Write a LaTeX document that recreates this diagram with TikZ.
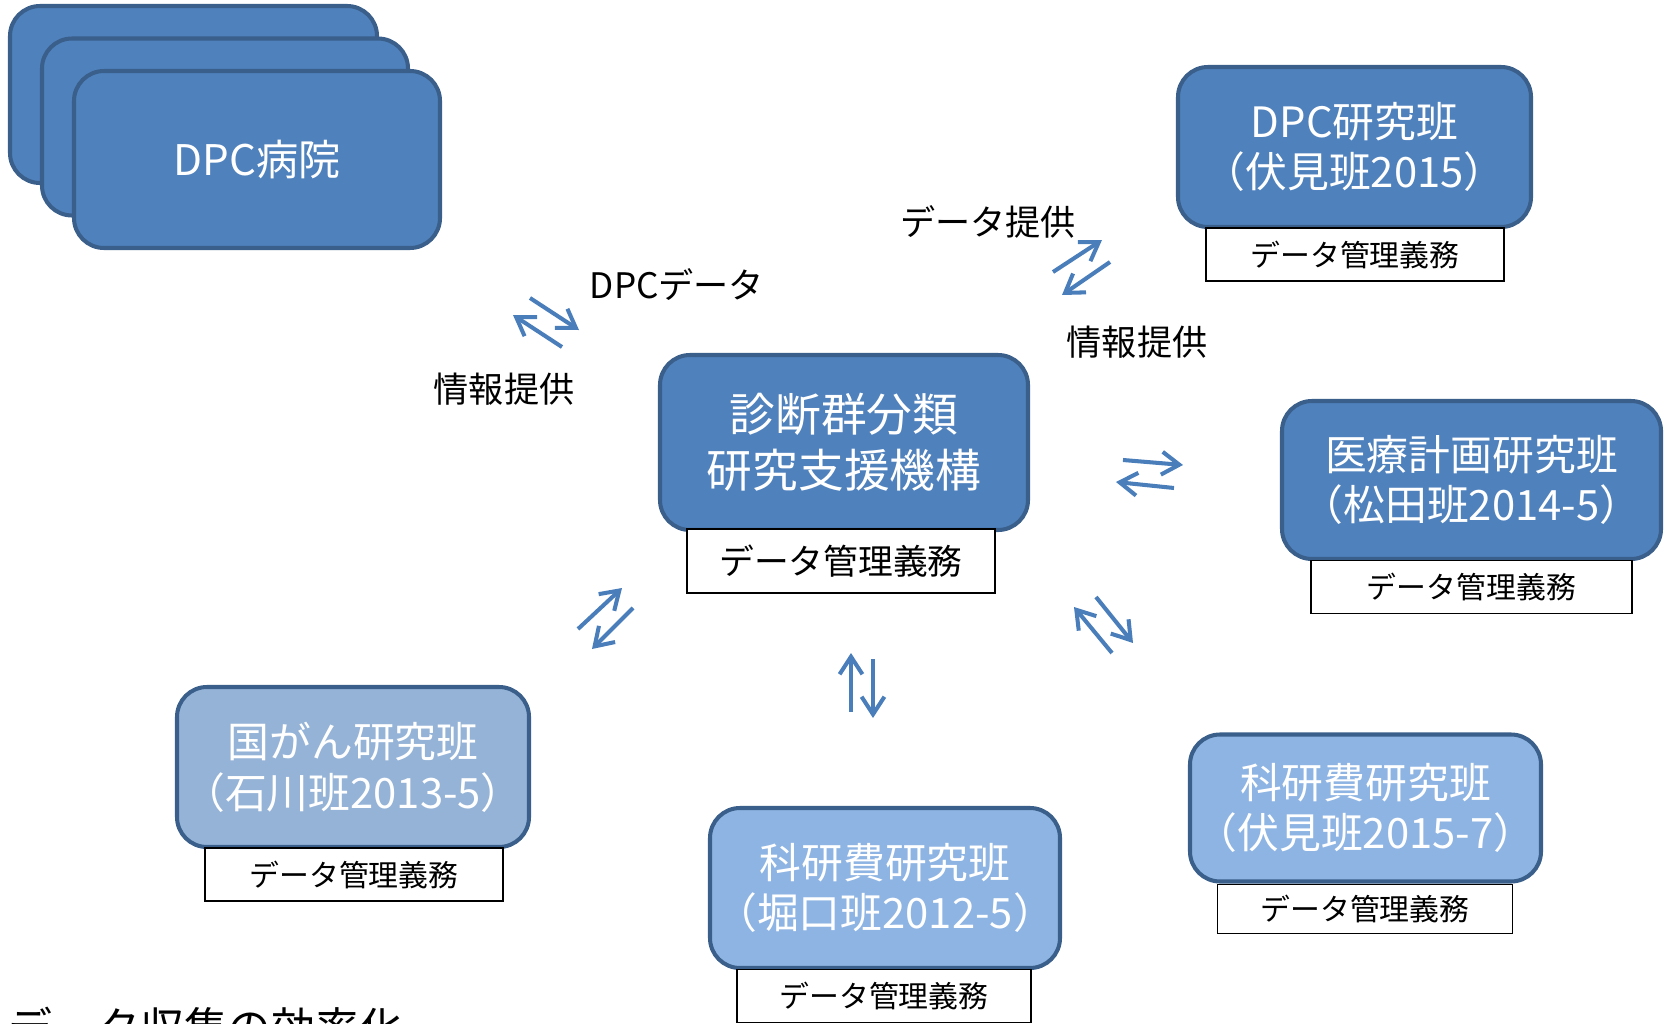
\documentclass[tikz,border=0pt]{standalone}
\usepackage{fontspec}
\setmainfont{Noto Sans CJK JP}
\usetikzlibrary{arrows.meta}
\definecolor{dkfill}{HTML}{4F81BD}
\definecolor{ltfillA}{HTML}{95B3D7}
\definecolor{ltfillB}{HTML}{8EB4E3}
\definecolor{edgeblue}{HTML}{3A5F8B}
\definecolor{arrblue}{HTML}{4A7EBB}
\begin{document}
\begin{tikzpicture}[x=0.02cm,y=-0.02cm,
  box/.style={draw=edgeblue, line width=2.3pt, rounded corners=0.6cm, inner sep=0pt, text=white, align=center},
  sz/.style 2 args={minimum width=#1*0.02cm, minimum height=#2*0.02cm},
  boxfont/.style={font=\fontsize{23.8pt}{28.9pt}\selectfont},
  duty/.style={draw=black, line width=1.1pt, fill=white, inner sep=0pt, font=\fontsize{17pt}{20pt}\selectfont},
  lbl/.style={font=\fontsize{20pt}{24pt}\selectfont, inner sep=0pt},
  dbl/.style={draw=arrblue, line width=2.3pt, -{Straight Barb[length=10pt,width=13pt]}}
]
\useasboundingbox (0,0) rectangle (1664,1024);

% DPC hospitals stack
\node[box, fill=dkfill, sz={367}{177}] (hospC) at (193.5,94.5) {};
\node[box, fill=dkfill, sz={366}{177}] (hospB) at (225,127) {};
\node[box, fill=dkfill, sz={366}{177}, font=\fontsize{24pt}{29pt}\selectfont] (hosp) at (257,159.5) {DPC病院};

% center
\node[box, fill=dkfill, sz={368}{175}, font=\fontsize{26pt}{31.8pt}\selectfont] (center) at (844,442.5) {診断群分類\\研究支援機構};
\node[duty, sz={308}{64}, font=\fontsize{19.8pt}{24pt}\selectfont] (centerduty) at (841,561) {データ管理義務};

% DPC research group
\node[box, boxfont, fill=dkfill, sz={353}{160}] (dpcg) at (1354.5,147) {DPC研究班\\（伏見班2015）};
\node[duty, sz={298}{53}] (dpcgduty) at (1355,254.5) {データ管理義務};

% medical plan group
\node[box, boxfont, fill=dkfill, sz={379}{158}] (medg) at (1471.5,480) {医療計画研究班\\（松田班2014-5）};
\node[duty, sz={321}{53}] (medgduty) at (1471.5,587) {データ管理義務};

% kaken Fushimi
\node[box, boxfont, fill=ltfillB, sz={351}{147}] (kakenA) at (1365.5,808) {科研費研究班\\（伏見班2015-7）};
\node[duty, sz={295}{49}] (kakenAduty) at (1365,909) {データ管理義務};

% kaken Horiguchi
\node[box, boxfont, fill=ltfillB, sz={350}{160}] (kakenB) at (885,888) {科研費研究班\\（堀口班2012-5）};
\node[duty, sz={294}{53}] (kakenBduty) at (884,996) {データ管理義務};

% national cancer
\node[box, boxfont, fill=ltfillA, sz={352}{160}] (cancer) at (353,767) {国がん研究班\\（石川班2013-5）};
\node[duty, sz={298}{53}] (cancerduty) at (354,874.5) {データ管理義務};

% labels
\node[lbl] (lblDPCdata) at (677,285) {DPCデータ};
\node[lbl] (lblInfoL) at (504,389) {情報提供};
\node[lbl] (lblDataR) at (988,222) {データ提供};
\node[lbl] (lblInfoR) at (1137,342) {情報提供};
\node[anchor=base west, inner sep=0pt, font=\fontsize{25pt}{30pt}\selectfont] (title) at (8,1044) {データ収集の効率化};

% arrows
\coordinate (a1s) at (530,298); \coordinate (a1e) at (579,330);
\coordinate (a2s) at (562,347); \coordinate (a2e) at (513,315);
\coordinate (a3s) at (1053,272); \coordinate (a3e) at (1102,240);
\coordinate (a4s) at (1110,262); \coordinate (a4e) at (1062,295);
\coordinate (a5s) at (1123,460); \coordinate (a5e) at (1183,465);
\coordinate (a6s) at (1174,488); \coordinate (a6e) at (1116,482);
\coordinate (a7s) at (1096,597); \coordinate (a7e) at (1133,643);
\coordinate (a8s) at (1112,653); \coordinate (a8e) at (1074,607);
\coordinate (a9s) at (851,712); \coordinate (a9e) at (851,653);
\coordinate (a10s) at (873,659); \coordinate (a10e) at (873,718);
\coordinate (a11s) at (578,629); \coordinate (a11e) at (622,588);
\coordinate (a12s) at (633,608); \coordinate (a12e) at (592,649);
\foreach \i in {1,...,12} { \draw[dbl] (a\i s) -- (a\i e); }
\end{tikzpicture}
\end{document}
